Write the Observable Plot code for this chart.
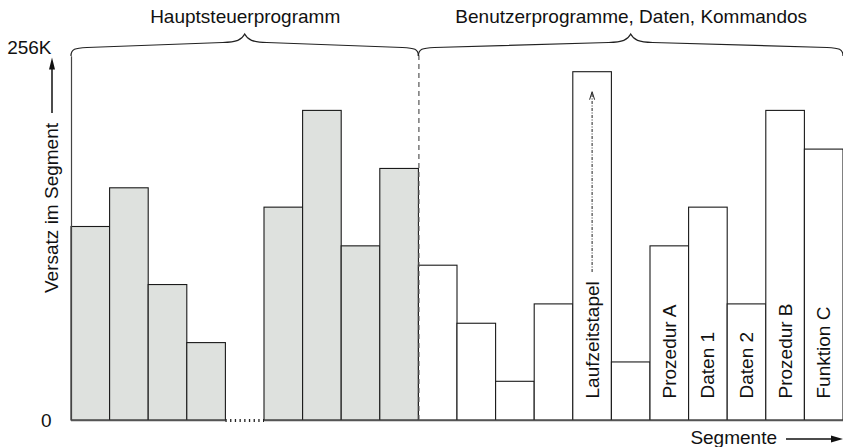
<!DOCTYPE html>
<html><head><meta charset="utf-8">
<script src="https://cdn.jsdelivr.net/npm/d3@7"></script>
<script src="https://cdn.jsdelivr.net/npm/@observablehq/plot@0.6"></script>
<style>body{margin:0;background:#fff} svg{display:block}</style>
</head><body><div id="chart"></div>
<script>
// Hauptsteuerprogramm segments (null = omitted segments, drawn as dotted gap)
const mainSegments = [10, 12, 7, 4, null, 11, 16, 9, 13];
// Benutzerprogramme, Daten, Kommandos segments
const userSegments = [8, 5, 2, 6, 18, 3, 9, 11, 6, 16, 14];
const userLabels = ["", "", "", "", "Laufzeitstapel", "", "Prozedur A", "Daten 1", "Daten 2", "Prozedur B", "Funktion C"];
const groupLabels = ["Hauptsteuerprogramm", "Benutzerprogramme, Daten, Kommandos"];
const yTickValues = [0, 19.25];
const yTickLabels = ["0", "256K"];
const yLabel = "Versatz im Segment";
const xLabel = "Segmente";

const FONT = "'Liberation Sans', Arial, Helvetica, sans-serif";
const nMain = mainSegments.length;
const nSlots = nMain + userSegments.length;

const bars = [];
mainSegments.forEach((v, i) => { if (v != null) bars.push({slot: i, value: v, group: "main", label: ""}); });
userSegments.forEach((v, i) => bars.push({slot: nMain + i, value: v, group: "user", label: userLabels[i]}));
const gapSlots = mainSegments.map((v, i) => v == null ? i : null).filter(d => d != null);
const groups = [
  {name: groupLabels[0], a: 0, b: nMain},
  {name: groupLabels[1], a: nMain, b: nSlots}
];
const topV = yTickValues[1];

// decorations: braces, axis label arrows, Laufzeitstapel arrow
function decorations(index, scales) {
  const {x, y} = scales;
  const g = d3.create("svg:g");
  const yb = y(topV) + 0.5;
  for (const grp of groups) {
    const x1 = x(grp.a), x2 = x(grp.b), xm = (x1 + x2) / 2;
    const p = `M${x1},${yb+8} C${x1},${yb+1} ${x1+4},${yb} ${x1+16},${yb-0.5} L${xm-22},${yb-5.5} C${xm-8},${yb-6} ${xm-3},${yb-8} ${xm},${yb-14} C${xm+3},${yb-8} ${xm+8},${yb-6} ${xm+22},${yb-5.5} L${x2-16},${yb-0.5} C${x2-4},${yb} ${x2},${yb+1} ${x2},${yb+8}`;
    g.append("path").attr("d", p).attr("fill", "none").attr("stroke", "#222").attr("stroke-width", 1.2);
  }
  // y axis label with arrow
  const xl = x(0) - 14;
  g.append("text").attr("transform", `translate(${xl+0.5},${y(0)-127}) rotate(-90)`)
    .attr("text-anchor", "start")
    .attr("font-size", 19).attr("font-family", FONT).attr("fill", "#111").text(yLabel);
  g.append("line").attr("x1", xl - 5).attr("x2", xl - 5).attr("y1", y(0) - 307).attr("y2", y(topV) + 18)
    .attr("stroke", "#111").attr("stroke-width", 1.5);
  const ty = y(topV) + 10;
  g.append("path").attr("d", `M${xl-5},${ty} L${xl-8},${ty+12} L${xl-2},${ty+12} Z`).attr("fill", "#111");
  // x label with arrow
  const yx = y(0) + 19;
  g.append("text").attr("x", x(nSlots) - 66).attr("y", yx + 4.5).attr("text-anchor", "end")
    .attr("font-size", 19).attr("font-family", FONT).attr("fill", "#111").text(xLabel);
  g.append("line").attr("x1", x(nSlots) - 57).attr("x2", x(nSlots) - 8).attr("y1", yx).attr("y2", yx)
    .attr("stroke", "#111").attr("stroke-width", 1.5);
  const ax = x(nSlots);
  g.append("path").attr("d", `M${ax},${yx} L${ax-12},${yx-3.5} L${ax-12},${yx+3.5} Z`).attr("fill", "#111");
  // Laufzeitstapel dash-dot arrow
  for (const d of bars.filter(d => d.label === "Laufzeitstapel")) {
    const cx = x(d.slot + 0.5);
    const yTop = y(d.value) + 20;
    const yBot = y(0) - 148;
    g.append("line").attr("x1", cx).attr("x2", cx).attr("y1", yBot).attr("y2", yTop + 2)
      .attr("stroke", "#222").attr("stroke-width", 1).attr("stroke-dasharray", "3,1.5,1,1.5");
    g.append("path").attr("d", `M${cx-2.5},${yTop+8} L${cx},${yTop} L${cx+2.5},${yTop+8}`)
      .attr("fill", "none").attr("stroke", "#222").attr("stroke-width", 1);
  }
  return g.node();
}

const chart = Plot.plot({
  width: 843,
  height: 447,
  marginLeft: 71,
  marginRight: 0,
  marginTop: 33,
  marginBottom: 27,
  x: {domain: [0, nSlots], axis: null},
  y: {domain: [0, 20], axis: null},
  style: {fontFamily: FONT, background: "#fff", color: "#111"},
  marks: [
    Plot.rectY(bars, {
      x1: "slot", x2: d => d.slot + 1, y1: 0, y2: "value",
      fill: d => d.group === "main" ? "#dee1de" : "#ffffff",
      stroke: "#1a1a1a", strokeWidth: 1.1
    }),
    // baseline
    Plot.ruleY([0], {x1: 0, x2: gapSlots[0], stroke: "#555", strokeWidth: 1.6}),
    Plot.ruleY([0], {x1: gapSlots[0] + 1, x2: nSlots, stroke: "#555", strokeWidth: 1.6}),
    Plot.ruleY(gapSlots, {y: 0, x1: d => d, x2: d => d + 1, stroke: "#222", strokeWidth: 3, strokeDasharray: "1.3,3.4"}),
    // y axis line
    Plot.ruleX([0], {y1: 0, y2: topV - 0.45, stroke: "#444", strokeWidth: 1.2}),
    // group divider
    Plot.ruleX([nMain], {y1: 0, y2: topV - 0.4, stroke: "#555", strokeWidth: 1.2, strokeDasharray: "5,4"}),
    // tick labels
    Plot.text(yTickValues, {x: 0, y: d => d, text: (d, i) => yTickLabels[i], textAnchor: "end",
      dx: -20, fontSize: 19, fill: "#111"}),
    // group titles
    Plot.text(groups, {x: d => (d.a + d.b) / 2, y: 20.85, text: "name", fontSize: 19, fill: "#111"}),
    // bar labels
    Plot.text(bars.filter(d => d.label), {x: d => d.slot + 0.5, y: 0, text: "label", rotate: -90,
      textAnchor: "start", dy: -22, fontSize: 19, fill: "#111"}),
    decorations
  ]
});
document.getElementById("chart").appendChild(chart);
</script>
</body></html>
